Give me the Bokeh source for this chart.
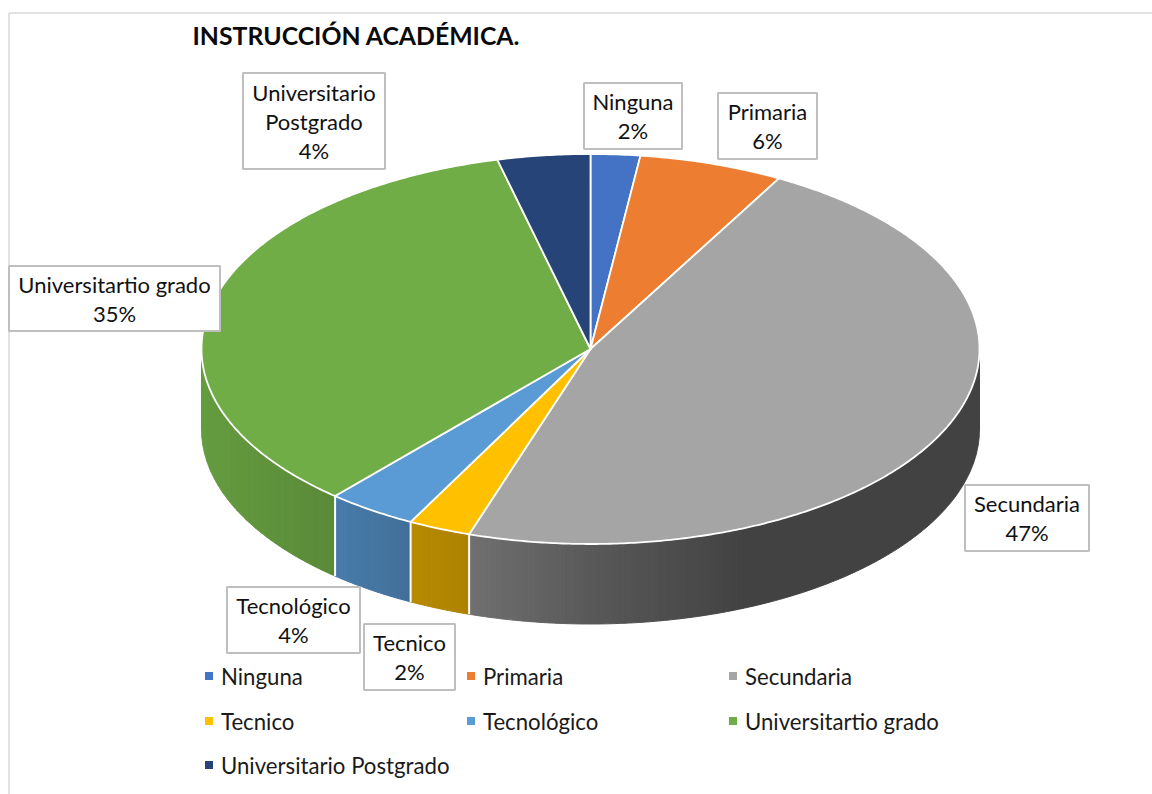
import numpy as np
from bokeh.plotting import figure
from bokeh.core.properties import value
from bokeh.embed import file_html
from bokeh.resources import INLINE

title = "INSTRUCCIÓN ACADÉMICA."
categories = ["Ninguna", "Primaria", "Secundaria", "Tecnico", "Tecnológico",
              "Universitartio grado", "Universitario Postgrado"]
shares = [2.05, 6.0, 47.0, 2.6, 3.75, 34.75, 3.85]
percent_labels = ["2%", "6%", "47%", "2%", "4%", "35%", "4%"]
colors = ["#4472C4", "#ED7D31", "#A5A5A5", "#FFC000", "#5B9BD5", "#70AD47", "#264478"]
label_lines = [["Ninguna"], ["Primaria"], ["Secundaria"], ["Tecnico"], ["Tecnológico"],
               ["Universitartio grado"], ["Universitario", "Postgrado"]]

FONT = value("Lato")
W, H = 1152, 794
p = figure(width=W, height=H, x_range=(0, W), y_range=(H, 0),
           output_backend="svg", toolbar_location=None, min_border=0)
p.axis.visible = False
p.grid.visible = False
p.outline_line_color = None
p.background_fill_color = "white"
p.border_fill_color = "white"

# frame of the chart area
p.segment([8.5, 8.5], [12.5, 12.5], [8.5, W], [H, 12.5], line_color="#d9d9d9", line_width=1.5)

cx, cy, rx, ry, depth = 590.0, 348.5, 389.0, 195.0, 80.0


def ex(t):
    return cx + rx * np.sin(t)


def ey(t):
    return cy - ry * np.cos(t)


cum = np.concatenate([[0], np.cumsum(shares)]) / sum(shares) * 2 * np.pi

# side wall: strips shaded by horizontal position, equal shades merged
shade_x = [201, 335, 410, 468, 600, 750, 979]
shade_k = [0.90, 0.80, 0.72, 0.68, 0.53, 0.40, 0.40]
xs, ys, cs = [], [], []
for i, col in enumerate(colors):
    a, b = max(cum[i], np.pi / 2), min(cum[i + 1], 3 * np.pi / 2)
    if b <= a:
        continue
    edges = np.linspace(a, b, max(3, int(np.degrees(b - a) * 3)))
    rgb = np.array([int(col[j:j + 2], 16) for j in (1, 3, 5)])
    groups = []
    for t0, t1 in zip(edges[:-1], edges[1:]):
        k = np.interp(ex((t0 + t1) / 2), shade_x, shade_k)
        r, g, bl = (rgb * k).astype(int)
        c = f"#{r:02x}{g:02x}{bl:02x}"
        if groups and groups[-1][0] == c:
            groups[-1][1].append(t1)
        else:
            groups.append((c, [t0, t1]))
    for c, ts in groups:
        ts = np.array(ts)
        xs.append(np.concatenate([ex(ts), ex(ts)[::-1]]))
        ys.append(np.concatenate([ey(ts), ey(ts)[::-1] + depth]))
        cs.append(c)
p.patches(xs, ys, fill_color=cs, line_color=cs, line_width=1)

# white separators on the wall
seps = [t for t in cum[1:-1] if np.pi / 2 < t < 3 * np.pi / 2]
p.segment([ex(t) for t in seps], [ey(t) for t in seps],
          [ex(t) for t in seps], [ey(t) + depth for t in seps],
          line_color="white", line_width=2)

# top face
tx, ty = [], []
for i in range(len(shares)):
    t = np.linspace(cum[i], cum[i + 1], max(3, int(np.degrees(cum[i + 1] - cum[i]) * 2)))
    tx.append(np.concatenate([[cx], ex(t)]))
    ty.append(np.concatenate([[cy], ey(t)]))
p.patches(tx, ty, fill_color=colors, line_color="white", line_width=1.8, line_join="round")

# data labels: box corners (left, right, top, bottom) per category
boxes = [(584, 682, 83, 149), (718, 817, 93, 159), (965, 1089, 485, 551), (364, 455, 624, 690),
         (227, 360, 587, 653), (9, 220, 266, 331), (243, 385, 73, 169)]
LS = 29.0
p.quad(left=[b[0] - 0.5 for b in boxes], right=[b[1] - 0.5 for b in boxes],
       top=[b[2] - 0.5 for b in boxes], bottom=[b[3] - 0.5 for b in boxes],
       fill_color="white", line_color="#bfbfbf", line_width=2)
lx, ly, lt = [], [], []
for b, lines, pct in zip(boxes, label_lines, percent_labels):
    rows = lines + [pct]
    mid = (b[2] + b[3]) / 2 - 0.5
    for k, row in enumerate(rows):
        lx.append((b[0] + b[1]) / 2 - 0.5)
        ly.append(mid + (k - (len(rows) - 1) / 2) * LS)
        lt.append(row)
p.text(lx, ly, text=lt, text_font=FONT, text_font_size="22px", text_color="#111111",
       text_align="center", text_baseline="middle")

# title
p.text([192], [35], text=[title], text_font=FONT, text_font_style="bold",
       text_font_size="24.8px", text_color="#0a0a0a", text_baseline="middle")

# legend
col_x = [208.5, 470.5, 732.5]
row_y = [675.5, 720.5, 764.5]
mx = [col_x[i % 3] for i in range(len(categories))]
my = [row_y[i // 3] for i in range(len(categories))]
p.scatter(mx, my, marker="square", size=8, fill_color=colors, line_color=None)
p.text([x + 12 for x in mx], my, text=categories, text_font=FONT, text_font_size="22.2px",
       text_color="#1a1a1a", text_baseline="middle")

open("out.html", "w").write(file_html(p, INLINE))
